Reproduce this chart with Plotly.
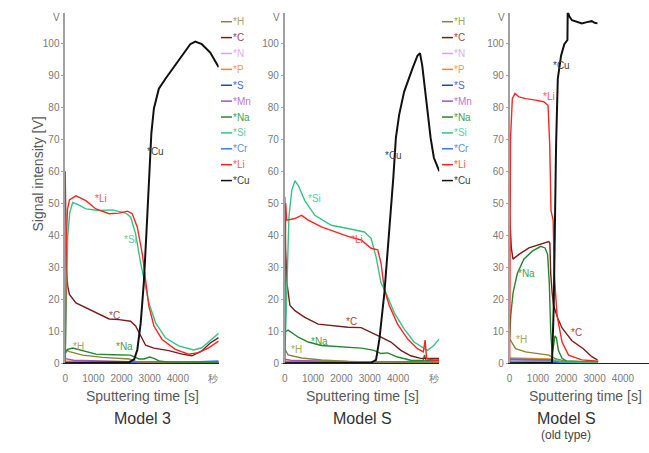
import plotly.graph_objects as go

# ---------------- element names and colours ----------------
elements = ["H", "C", "N", "P", "S", "Mn", "Na", "Si", "Cr", "Li", "Cu"]
line_colors = ["#85853a", "#7a1c1c", "#d9a3dc", "#ff7f2a", "#2347b8", "#a452b5",
               "#23862f", "#34c387", "#3b78e0", "#ff2424", "#111111"]
text_colors = ["#a6a65e", "#a54848", "#dbb0df", "#ff9a55", "#4b6bcc", "#b97ac6",
               "#46a052", "#5ccf9f", "#5b90e6", "#ff5555", "#444444"]

# ---------------- Model 3 ----------------
m3_h_t = [0, 30, 150, 620, 1320, 2270, 2450, 2600, 5450]
m3_h_v = [3.5, 4.2, 3.6, 2.5, 1.8, 1.3, 0.7, 0.3, 0.2]
m3_c_t = [0, 15, 40, 90, 150, 380, 855, 1320, 1560, 1910, 2320, 2500, 2680, 2855, 3150,
          3680, 4150, 4500, 4850, 5150, 5450]
m3_c_v = [60, 45, 30, 24, 21.5, 18.8, 16.7, 14.7, 13.8, 13.6, 13.1, 11.6, 8.5, 5.6, 4.7,
          3.9, 2.8, 2.3, 3.8, 6.3, 8.0]
m3_n_t = [0, 5450]
m3_n_v = [0.4, 0.2]
m3_p_t = [0, 5450]
m3_p_v = [0.6, 0.3]
m3_s_t = [0, 5450]
m3_s_v = [0.1, 0.1]
m3_mn_t = [0, 300, 2500, 5450]
m3_mn_v = [1.4, 0.9, 0.4, 0.3]
m3_na_t = [0, 88, 265, 620, 1090, 1680, 2320, 2620, 2800, 3000, 3150, 3330, 3600, 5450]
m3_na_v = [3.0, 4.3, 4.7, 3.8, 2.8, 2.6, 2.5, 1.3, 1.3, 1.9, 1.5, 0.7, 0.4, 0.3]
m3_si_t = [0, 40, 88, 160, 265, 440, 735, 1200, 1680, 2150, 2325, 2500, 2680, 2830, 2970,
           3210, 3560, 4030, 4560, 4850, 5150, 5450]
m3_si_v = [0, 24, 39.5, 47, 50.2, 49.6, 48.2, 47.7, 47.9, 46.9, 45.6, 40.4, 31.2, 25,
           18.8, 12.6, 7.9, 5.4, 4.1, 4.8, 6.9, 9.3]
m3_cr_t = [0, 3500, 4500, 5450]
m3_cr_v = [0.3, 0.3, 0.4, 0.7]
m3_li_t = [0, 30, 80, 150, 381, 735, 1090, 1560, 1910, 2210, 2380, 2560, 2740, 2855,
           2970, 3150, 3440, 3910, 4380, 4740, 5090, 5450]
m3_li_v = [0, 36, 48, 51, 52.3, 50.8, 48.2, 46.7, 46.9, 47.5, 46.7, 42.5, 34, 26, 17.8,
           11.6, 7.4, 4.3, 2.8, 3.3, 4.8, 6.9]
m3_cu_t = [0, 2270, 2450, 2560, 2680, 2790, 2880, 2940, 2990, 3060, 3150, 3325, 3560,
           3850, 4210, 4440, 4620, 4850, 5150, 5450]
m3_cu_v = [0, 0.3, 1.2, 4.2, 12.5, 25, 40, 52, 62, 72, 79.6, 85.8, 88.9, 92.5, 97.1,
           99.7, 100.5, 99.7, 97.1, 92.5]

# ---------------- Model S ----------------
ms_h_t = [0, 120, 595, 1295, 2230, 3150, 5450]
ms_h_v = [4.5, 2.6, 1.6, 1.0, 0.5, 0.3, 0.2]
ms_c_t = [0, 30, 80, 185, 360, 710, 1180, 1645, 2230, 2695, 3045, 3395, 3745, 4095,
          4445, 4795, 5450]
ms_c_v = [52, 36, 25, 18, 16.4, 14.3, 12.2, 11.7, 11.2, 11.1, 9.7, 8.1, 6.6, 4.0, 2.3,
          1.5, 1.5]
ms_n_t = [0, 5450]
ms_n_v = [0.4, 0.2]
ms_p_t = [0, 5450]
ms_p_v = [0.6, 0.3]
ms_s_t = [0, 5450]
ms_s_v = [0.1, 0.1]
ms_mn_t = [0, 300, 3000, 5450]
ms_mn_v = [1.2, 0.8, 0.4, 0.3]
ms_na_t = [0, 120, 480, 830, 1295, 1995, 2695, 3150, 3395, 3630, 3980, 4445, 4880, 4930,
           4980, 5450]
ms_na_v = [9.7, 10.3, 8.1, 6.6, 5.5, 5.0, 4.7, 4.0, 3.0, 3.2, 1.9, 0.9, 0.8, 2.6, 0.8, 0.8]
ms_si_t = [0, 70, 150, 250, 360, 480, 710, 1060, 1645, 2230, 2810, 3045, 3220, 3395,
           3570, 3860, 4210, 4560, 5030, 5260, 5450]
ms_si_v = [0, 20, 45.7, 54, 57, 55.5, 50.8, 46.2, 43.1, 42.1, 41, 39, 33.3, 25.1, 22,
           15.8, 10.7, 6.6, 4.0, 5.5, 7.6]
ms_cr_t = [0, 4000, 5450]
ms_cr_v = [0.3, 0.4, 1.0]
ms_li_t = [0, 35, 70, 360, 595, 830, 1295, 1760, 2230, 2695, 3045, 3280, 3395, 3515,
           3690, 3980, 4330, 4680, 4890, 4950, 4975, 5005, 5260, 5450]
ms_li_v = [0, 50, 44.7, 45.2, 46.2, 44.7, 42.6, 41.0, 39.6, 38.5, 35.9, 35.4, 31.3, 23.0,
           17.9, 12.2, 7.6, 4.5, 3.5, 7.2, 4.0, 1.4, 0.9, 0.9]
ms_cu_t = [0, 3045, 3220, 3340, 3515, 3690, 3830, 3920, 4035, 4210, 4385, 4500, 4680,
           4770, 4850, 4935, 5030, 5145, 5260, 5380, 5450]
ms_cu_v = [0, 0.1, 1.0, 7.5, 22, 40.5, 58, 70.4, 77.6, 84.8, 89.4, 92, 96.1, 96.9, 93.0,
           86.8, 78.6, 70.4, 64.2, 61.1, 60]

# ---------------- Model S (old type) ----------------
mo_h_t = [0, 210, 560, 1030, 1380, 1615, 1965, 3100]
mo_h_v = [7.6, 4.5, 3.5, 3.0, 2.5, 1.4, 0.6, 0.3]
mo_c_t = [0, 60, 117, 330, 680, 1030, 1380, 1420, 1450, 1500, 1550, 1700, 1850, 2025,
          2200, 2600, 2900, 3100]
mo_c_v = [46, 36, 32.5, 34, 36, 37, 38, 37.5, 28, 22, 18, 14, 11, 9, 7, 4.5, 2, 1]
mo_n_t = [0, 1500, 1700, 3100]
mo_n_v = [1.0, 0.8, 0.3, 0.2]
mo_p_t = [0, 1450, 1700, 3100]
mo_p_v = [1.6, 1.3, 0.4, 0.3]
mo_s_t = [0, 1500, 3100]
mo_s_v = [0.4, 0.3, 0.1]
mo_mn_t = [0, 1450, 1700, 3100]
mo_mn_v = [1.1, 0.9, 0.3, 0.2]
mo_na_t = [0, 40, 120, 270, 500, 800, 1100, 1250, 1340, 1400, 1450, 1500, 1560, 1600,
           1650, 1720, 1850, 2000, 3100]
mo_na_v = [8, 15, 22, 28, 32.5, 35, 36.5, 36, 34, 25, 10, 3, 6, 8.5, 8, 4, 1.5, 0.7, 0.3]
mo_si_t = [0, 1500, 1650, 1800, 3100]
mo_si_v = [0.5, 0.5, 1.2, 0.4, 0.2]
mo_cr_t = [0, 1500, 1700, 3100]
mo_cr_v = [1.3, 1.0, 0.4, 0.3]
mo_li_t = [0, 30, 95, 190, 330, 560, 910, 1205, 1355, 1415, 1460, 1535, 1580, 1675, 1850,
           2080, 2550, 3135]
mo_li_v = [0, 70, 82.7, 84.3, 83.2, 82.7, 82.2, 81.7, 80.6, 68.3, 47.7, 44.7, 27.2, 14.8,
           6.6, 2.5, 1.0, 0.6]
mo_cu_t = [0, 1495, 1555, 1590, 1640, 1700, 1730, 1815, 1930, 2020, 2040, 2050, 2100,
           2200, 2375, 2550, 2725, 2900, 3000, 3100]
mo_cu_v = [0, 0.1, 16.9, 42.6, 68.3, 88.9, 91, 96.1, 99.7, 100.5, 101, 110, 108.5, 107.2,
           106.8, 106.2, 106.6, 106.9, 106.4, 106.2]

panels = [
    [(m3_h_t, m3_h_v), (m3_c_t, m3_c_v), (m3_n_t, m3_n_v), (m3_p_t, m3_p_v),
     (m3_s_t, m3_s_v), (m3_mn_t, m3_mn_v), (m3_na_t, m3_na_v), (m3_si_t, m3_si_v),
     (m3_cr_t, m3_cr_v), (m3_li_t, m3_li_v), (m3_cu_t, m3_cu_v)],
    [(ms_h_t, ms_h_v), (ms_c_t, ms_c_v), (ms_n_t, ms_n_v), (ms_p_t, ms_p_v),
     (ms_s_t, ms_s_v), (ms_mn_t, ms_mn_v), (ms_na_t, ms_na_v), (ms_si_t, ms_si_v),
     (ms_cr_t, ms_cr_v), (ms_li_t, ms_li_v), (ms_cu_t, ms_cu_v)],
    [(mo_h_t, mo_h_v), (mo_c_t, mo_c_v), (mo_n_t, mo_n_v), (mo_p_t, mo_p_v),
     (mo_s_t, mo_s_v), (mo_mn_t, mo_mn_v), (mo_na_t, mo_na_v), (mo_si_t, mo_si_v),
     (mo_cr_t, mo_cr_v), (mo_li_t, mo_li_v), (mo_cu_t, mo_cu_v)],
]

# in-plot curve labels: (element, time, value)
m3_labels = [("Li", 1000, 51.5), ("Si", 2000, 38.5), ("C", 1500, 15), ("Na", 1750, 5.2),
             ("H", 200, 5.2), ("Cu", 2850, 66)]
ms_labels = [("Si", 750, 51.5), ("Li", 2250, 38.5), ("C", 2100, 13), ("Na", 850, 6.8),
             ("H", 150, 4.3), ("Cu", 3450, 65)]
mo_labels = [("Li", 1100, 83.5), ("Cu", 1450, 93), ("Na", 230, 28), ("H", 150, 7.4),
             ("C", 2100, 9.5)]
panel_labels = [m3_labels, ms_labels, mo_labels]

x_ticks = [0, 1000, 2000, 3000, 4000]
y_ticks = [0, 10, 20, 30, 40, 50, 60, 70, 80, 90, 100]
model_names = ["Model 3", "Model S", "Model S"]

W, H = 649, 453
px_x = lambda p: p / W
px_y = lambda p: 1 - p / H

x_domains = [(62.5, 216.7), (283, 438.3), (509, 649)]
x_ranges = [[0, 5450], [0, 5450], [0, 4920]]
y_dom = [px_y(368), px_y(13)]
y_range = [0, 109.5]

TICK_FONT = dict(family="Liberation Sans, Arial, sans-serif", size=10, color="#7a7a7a")
SMALL_FONT = "Liberation Sans, Arial, sans-serif"
TITLE_FONT = "Liberation Sans, Arial, sans-serif"

fig = go.Figure()
layout = dict(width=W, height=H, margin=dict(l=0, r=0, t=0, b=0),
              paper_bgcolor="white", plot_bgcolor="white", showlegend=False)
annotations = []
shapes = []


def note(x, y, text, font, xref="paper", yref="paper", xanchor="center", **kw):
    annotations.append(dict(xref=xref, yref=yref, x=x, y=y, text=text, showarrow=False,
                            xanchor=xanchor, yanchor="middle", font=font, **kw))


draw_order = [2, 3, 4, 5, 8, 0, 6, 1, 7, 9, 10]
for p, series in enumerate(panels):
    sfx = "" if p == 0 else str(p + 1)
    for k in draw_order:
        t, v = series[k]
        fig.add_trace(go.Scatter(
            x=t, y=v, mode="lines", name=elements[k],
            line=dict(color=line_colors[k], width=2.0 if elements[k] == "Cu" else 1.4),
            xaxis="x" + sfx, yaxis="y" + sfx, hoverinfo="skip"))

    ticktext_x = [str(v) for v in x_ticks]
    tickvals_x = list(x_ticks)
    if p < 2:
        tickvals_x.append(5250)
        ticktext_x.append("秒")
    layout["xaxis" + sfx] = dict(
        domain=[px_x(x_domains[p][0]), px_x(x_domains[p][1])], range=x_ranges[p],
        anchor="y" + sfx, showgrid=False, zeroline=False, showline=True,
        linecolor="#222222", linewidth=1, ticks="", tickvals=tickvals_x,
        ticktext=ticktext_x, tickfont=TICK_FONT, ticklabelstandoff=6)
    layout["yaxis" + sfx] = dict(
        domain=y_dom, range=y_range, anchor="x" + sfx, showgrid=False, zeroline=False,
        showline=True, linecolor="#a0a0a0", linewidth=1.5, ticks="outside", ticklen=2,
        tickcolor="#a0a0a0", tickvals=y_ticks, tickfont=TICK_FONT)

    # "V" unit marker at the top of the value axis
    note(px_x(x_domains[p][0] - 3), px_y(18), "V", TICK_FONT, xanchor="right")

    # curve labels
    for el, t, v in panel_labels[p]:
        k = elements.index(el)
        note(t, v, "*" + el, dict(family=SMALL_FONT, size=10, color=text_colors[k]),
             xref="x" + sfx, yref="y" + sfx, xanchor="left")

    # axis title and model name
    cx = [140, 361, 585][p]
    note(px_x(cx), px_y(401), "Sputtering time [s]",
         dict(family=TITLE_FONT, size=14, color="#595959"))
    mx = [140, 361, 566][p]
    note(px_x(mx), px_y(424), model_names[p], dict(family=TITLE_FONT, size=16, color="#333333"))

note(px_x(566), px_y(441), "(old type)", dict(family=TITLE_FONT, size=12, color="#444444"))

# value axis title
note(px_x(35), px_y(176), "Signal intensity [V]",
     dict(family=TITLE_FONT, size=14, color="#595959"), textangle=-90)

# element keys beside the first two panels
for left in (219, 441):
    for i, el in enumerate(elements):
        yy = 22 + i * 16.1
        shapes.append(dict(type="line", xref="paper", yref="paper",
                           x0=px_x(left), x1=px_x(left + 11), y0=px_y(yy), y1=px_y(yy),
                           line=dict(color=line_colors[i], width=1.5)))
        note(px_x(left + 10), px_y(yy), "*" + el,
             dict(family=SMALL_FONT, size=10, color=text_colors[i]), xanchor="left")

layout["annotations"] = annotations
layout["shapes"] = shapes
fig.update_layout(**layout)
fig.write_html("out.html")
